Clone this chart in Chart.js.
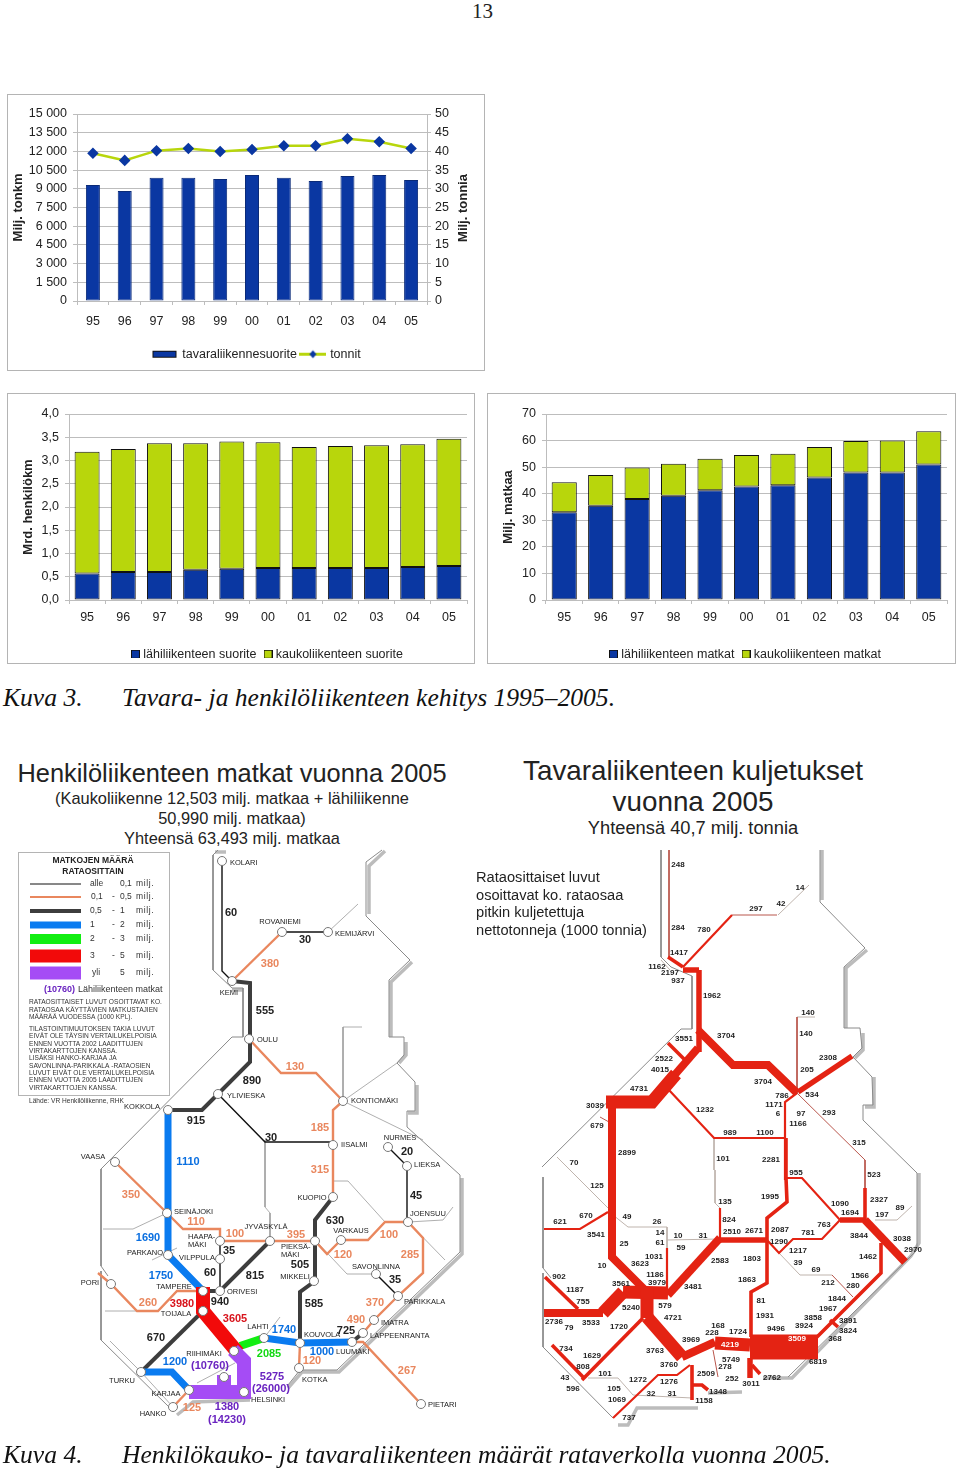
<!DOCTYPE html>
<html lang="fi">
<head>
<meta charset="UTF-8">
<title>Tavara- ja henkilöliikenteen kehitys 1995–2005</title>
<script src="https://cdn.jsdelivr.net/npm/chart.js@4/dist/chart.umd.js"></script>
<style>
  html, body { margin: 0; padding: 0; background: #fff; }
  body { position: relative; width: 960px; height: 1471px; overflow: hidden; font-family: "Liberation Sans", Arial, sans-serif; color: #222; }
  .panel { position: absolute; box-sizing: border-box; border: 1px solid #b4b4b4; }
  canvas { position: absolute; }
  .t { position: absolute; white-space: nowrap; line-height: 1; }
  .c { transform: translateX(-50%); }
  .cap { font-family: "Liberation Serif", "Times New Roman", serif; font-style: italic; font-size: 25.6px; color: #111; }
</style>
</head>
<body>
<div class="t" style="left:472px;top:1px;font-family:'Liberation Serif',serif;font-size:21px;">13</div>

<div class="panel" style="left:7px;top:94px;width:478px;height:277px;"></div>
<canvas id="freightChart" style="left:7px;top:94px;" width="478" height="277"></canvas>
<div class="panel" style="left:7px;top:393px;width:468px;height:271px;"></div>
<canvas id="pkmChart" style="left:7px;top:393px;" width="468" height="271"></canvas>
<div class="panel" style="left:487px;top:393px;width:469px;height:271px;"></div>
<canvas id="tripsChart" style="left:487px;top:393px;" width="469" height="271"></canvas>

<div class="t cap" style="left:3px;top:685px;">Kuva 3.</div>
<div class="t cap" style="left:122px;top:685px;">Tavara- ja henkilöliikenteen kehitys 1995–2005.</div>

<div class="t c" style="left:232px;top:761px;font-size:25.4px;">Henkilöliikenteen matkat vuonna 2005</div>
<div class="t c" style="left:232px;top:790px;font-size:16.4px;">(Kaukoliikenne 12,503 milj. matkaa + lähiliikenne</div>
<div class="t c" style="left:232px;top:810px;font-size:16.4px;">50,990 milj. matkaa)</div>
<div class="t c" style="left:232px;top:830px;font-size:16.4px;">Yhteensä 63,493 milj. matkaa</div>
<div class="t c" style="left:693px;top:757px;font-size:27.8px;">Tavaraliikenteen kuljetukset</div>
<div class="t c" style="left:693px;top:788px;font-size:27.8px;">vuonna 2005</div>
<div class="t c" style="left:693px;top:819px;font-size:18.3px;">Yhteensä 40,7 milj. tonnia</div>

<div class="panel" style="left:18px;top:852px;width:152px;height:244px;"></div>
<canvas id="mapChart" style="left:0;top:840px;" width="960" height="631"></canvas>

<div class="t" style="left:476px;top:869px;font-size:14.65px;line-height:17.6px;">Rataosittaiset luvut<br>osoittavat ko. rataosaa<br>pitkin kuljetettuja<br>nettotonneja (1000 tonnia)</div>

<div class="t cap" style="left:3px;top:1442px;">Kuva 4.</div>
<div class="t cap" style="left:122px;top:1442px;">Henkilökauko- ja tavaraliikenteen määrät rataverkolla vuonna 2005.</div>

<script>
// vuodet
const years = ['95','96','97','98','99','00','01','02','03','04','05'];

// kuva 3, tavaraliikenne
const tonkm = [9300,8830,9890,9890,9790,10100,9890,9620,10020,10100,9700];
const tonnit = [39.5,37.6,40.2,40.8,40,40.5,41.5,41.5,43.4,42.6,40.8];

// kuva 3, henkilöliikenne
const lahiSuorite = [0.57,0.60,0.60,0.65,0.67,0.69,0.69,0.69,0.69,0.71,0.73];
const kaukoSuorite = [2.62,2.65,2.77,2.72,2.74,2.70,2.60,2.62,2.64,2.64,2.74];
const lahiMatkat = [33,35.5,38,39.2,41.3,42.7,43.2,46.1,48,48,51];
const kaukoMatkat = [11.3,11.5,11.9,12.1,11.9,11.9,11.8,11.5,11.8,12,12.5];

// kuva 4: rataosat kartan koordinaateissa
const borderLeft = [
  [[218,850],[213,855],[213,970],[232,988],[243,988],[243,1037],[232,1037],[101,1169],[101,1266],[108,1276]],
  [[101,1271],[101,1340],[170,1408]],
  [[288,1385],[300,1370],[337,1370],[460,1252],[460,1175],[407,1127],[407,1111],[415,1111],[415,1082],[397,1063],[404,1055],[404,1037],[389,1037],[389,980],[410,960],[366,916],[366,862],[382,850]]
];
const shadowLeft = [
  [[385,851],[369,866],[369,914]],
  [[412,962],[391,982],[391,1037]],
  [[406,1042],[406,1055],[399,1063]],
  [[417,1085],[417,1113],[408,1113]],
  [[462,1178],[462,1254],[339,1372],[302,1372],[288,1388]],
  [[177,1415],[187,1407],[193,1402],[250,1400]],
  [[215,852],[226,852]],
  [[232,990],[243,990]]
];
const branchLeft = [
  [[328,932],[358,904]],
  [[362,1027],[343,1027],[343,1101],[397,1063]],
  [[343,1101],[423,1140]],
  [[265,1140],[265,1207],[270,1213],[270,1241]],
  [[333,1181],[348,1181],[385,1222]],
  [[315,1240],[347,1274],[376,1274]],
  [[408,1222],[445,1260]],
  [[408,1222],[443,1220],[453,1207]],
  [[167,1213],[133,1229],[103,1229]],
  [[152,1260],[177,1248]],
  [[105,1311],[158,1311]],
  [[264,1338],[280,1317]],
  [[197,1383],[235,1363]],
  [[110,1341],[141,1372],[173,1407]]
];
const blackLines = [
  [[222,861],[222,971],[232,981]],
  [[218,1094],[265,1142],[333,1142]],
  [[388,1147],[407,1166],[407,1222]],
  [[376,1274],[398,1296]],
  [[282,932],[328,932]],
  [[220,1241],[220,1291]]
];
const orangeLines = [
  [[232,981],[282,932]],
  [[249,1039],[281,1073],[316,1073],[343,1101]],
  [[343,1101],[333,1110],[333,1197]],
  [[115,1162],[167,1213],[183,1229],[220,1229],[220,1241]],
  [[220,1241],[315,1241],[327,1254],[341,1240],[368,1240],[385,1222],[408,1222],[423,1238],[423,1273],[398,1296],[374,1320],[363,1333]],
  [[98,1273],[111,1284],[137,1311],[158,1311],[177,1291],[203,1291]],
  [[173,1407],[189,1390]],
  [[300,1343],[299,1368]],
  [[352,1342],[363,1342],[421,1404]]
];
const darkLines = [
  [[232,981],[250,983],[250,1062],[218,1094],[202,1110],[168,1110]],
  [[333,1197],[315,1220],[315,1281],[300,1292],[300,1343]],
  [[270,1241],[220,1291],[203,1291]],
  [[203,1311],[141,1372]],
  [[363,1333],[352,1342]]
];
const blueLines = [
  [[168,1110],[168,1255],[203,1291]],
  [[141,1372],[172,1372],[189,1390]],
  [[264,1338],[300,1343],[352,1342]]
];
const greenLines = [[[240,1346],[264,1338]]];
const redLines = [[[203,1287],[203,1311],[238,1353]]];
const purpleLines = [
  [[233,1350],[244,1361],[244,1392],[189,1392]],
  [[224,1375],[224,1392]]
];
const stations = [
  [222,861],[282,932],[328,932],[232,981],[249,1039],[218,1094],[343,1101],[168,1110],[333,1145],[388,1147],
  [407,1166],[333,1197],[408,1222],[341,1240],[315,1241],[270,1241],[376,1274],[314,1281],[398,1296],[374,1320],
  [363,1333],[352,1342],[300,1343],[264,1338],[299,1368],[421,1404],[115,1162],[167,1213],[220,1241],[168,1255],
  [220,1259],[111,1284],[203,1291],[220,1291],[203,1311],[234,1351],[141,1372],[189,1390],[173,1407],[244,1392],[224,1377]
];

// kuva 4: selitteen viivat
const legendBlack = [[[30,884],[81,884]]];
const legendOrange = [[[30,897],[81,897]]];
const legendDark = [[[30,911],[81,911]]];
const legendBlue = [[[30,925],[81,925]]];
const legendGreen = [[[30,939],[81,939]]];
const legendRed = [[[30,956],[81,956]]];
const legendPurple = [[[30,973],[81,973]]];

// kuva 4: tavaraliikenteen kartta
const borderRight = [
  [[661,850],[661,957],[671,967],[692,976],[692,1029],[681,1029],[542,1167]],
  [[543,1177],[543,1268],[551,1278]],
  [[543,1273],[543,1347],[613,1418]],
  [[788,1377],[912,1255],[917,1250],[917,1173],[863,1120],[863,1105],[873,1105],[872,1077],[853,1057],[862,1048],[860,1028],[844,1028],[844,967],[865,948],[820,902],[820,850]]
];
const shadowRight = [
  [[822,850],[822,900]],
  [[867,950],[846,968],[846,1028]],
  [[863,1033],[863,1050],[855,1058]],
  [[874,1077],[874,1107],[865,1107]],
  [[919,1173],[919,1243],[911,1256],[792,1378],[763,1378]],
  [[742,1392],[708,1393]],
  [[698,1408],[637,1408],[628,1425],[618,1425]]
];
const thinGrey = [
  [[714,1138],[714,1170]],
  [[715,1170],[715,1203],[720,1208]],
  [[613,1215],[628,1227],[667,1227],[667,1248]],
  [[667,1240],[720,1239]],
  [[588,1378],[618,1378],[633,1395],[692,1398]],
  [[557,1157],[608,1208]],
  [[779,1253],[800,1275],[832,1275]],
  [[875,1220],[897,1220],[912,1206]],
  [[797,1017],[815,1017]],
  [[778,915],[809,885]],
  [[670,970],[661,960]]
];
const thinRed = [
  [[669,850],[669,957]],
  [[732,915],[777,915]],
  [[797,1017],[797,1093]],
  [[797,1093],[865,1160],[865,1188]],
  [[832,1275],[853,1297]],
  [[713,1350],[718,1377]],
  [[600,1117],[609,1122]]
];
const freightW2 = [
  [[608,1212],[580,1229],[544,1229]],
  [[683,967],[732,915]],
  [[785,1180],[785,1102],[797,1093]],
  [[668,1089],[714,1138],[785,1138]],
  [[786,1178],[802,1178],[840,1220],[862,1220]],
  [[767,1240],[779,1253],[793,1239],[822,1239],[840,1220]],
  [[613,1418],[658,1375],[677,1375],[690,1365]],
  [[667,1248],[667,1293]],
  [[720,1238],[720,1208]]
];
const freightW4 = [
  [[668,957],[683,967]],
  [[668,1043],[686,1061]],
  [[786,1138],[786,1178],[787,1202],[767,1218],[767,1283],[751,1292],[751,1337]],
  [[881,1243],[881,1273],[807,1347]],
  [[545,1277],[578,1309]],
  [[552,1345],[584,1378]],
  [[643,1318],[582,1380]],
  [[692,1365],[692,1400]],
  [[692,1385],[702,1385],[708,1390]],
  [[830,1320],[838,1327]],
  [[752,1365],[760,1374]],
  [[865,1188],[865,1220]]
];
const freightW6 = [
  [[699,970],[683,970]],
  [[699,970],[699,1052]],
  [[798,1092],[852,1056]],
  [[720,1240],[767,1240]],
  [[840,1220],[865,1220]],
  [[750,1358],[750,1378]]
];
const freightW8 = [
  [[612,1102],[612,1257],[647,1292]],
  [[720,1238],[668,1295]],
  [[698,1030],[733,1065],[768,1065],[797,1093]],
  [[698,1048],[672,1078]],
  [[865,1220],[905,1262]],
  [[603,1313],[544,1313]],
  [[682,1357],[715,1342]]
];
const freightW12 = [
  [[676,1074],[652,1102],[606,1102]],
  [[623,1292],[668,1293]],
  [[623,1292],[603,1313]],
  [[647,1317],[682,1357]],
  [[715,1343],[750,1345]],
  [[647,1288],[647,1318]]
];
const freightBlock = [[[750,1347],[818,1347]]];

// kuva 4: nimet ja luvut
const namesLeft = [
  ['KOLARI',230,863],['KEMIJÄRVI',335,934],['OULU',257,1040],['YLIVIESKA',227,1096],['KONTIOMÄKI',351,1101],
  ['IISALMI',341,1145],['LIEKSA',414,1165],['JOENSUU',410,1214],['PIEKSÄ-',281,1247],['MÄKI',281,1255],
  ['PARIKKALA',404,1302],['IMATRA',381,1323],['LAPPEENRANTA',370,1336],['LUUMÄKI',336,1352],['KOUVOLA',304,1335],
  ['KOTKA',302,1380],['PIETARI',428,1405],['SEINÄJOKI',174,1212],['HAAPA-',188,1237],['MÄKI',188,1245],
  ['ORIVESI',227,1292],['HELSINKI',251,1400]
];
const namesCenter = [
  ['ROVANIEMI',280,922],['KEMI',229,993],['KOKKOLA',142,1107],['NURMES',400,1138],['KUOPIO',312,1198],
  ['VARKAUS',351,1231],['JYVÄSKYLÄ',266,1227],['SAVONLINNA',376,1267],['MIKKELI',295,1277],['LAHTI',258,1327],
  ['VAASA',93,1157],['PARKANO',145,1253],['VILPPULA',197,1258],['PORI',90,1283],['TAMPERE',174,1287],
  ['TOIJALA',176,1314],['RIIHIMÄKI',204,1354],['TURKU',122,1381],['KARJAA',166,1394],['HANKO',153,1414]
];
const numsBlack = [
  ['60',231,913],['30',305,940],['555',265,1011],['890',252,1081],['915',196,1121],['30',271,1138],['20',407,1152],
  ['45',416,1196],['630',335,1221],['505',300,1265],['815',255,1276],['35',229,1251],['60',210,1273],['35',395,1280],
  ['585',314,1304],['940',220,1302],['670',156,1338],['725',346,1331]
];
const numsOrange = [
  ['380',270,964],['130',295,1067],['185',320,1128],['315',320,1170],['350',131,1195],['110',196,1222],['100',235,1234],
  ['395',296,1235],['100',389,1235],['120',343,1255],['285',410,1255],['260',148,1303],['370',375,1303],['490',356,1320],
  ['120',312,1361],['267',407,1371],['125',192,1408]
];
const numsBlue = [['1110',188,1162],['1690',148,1238],['1750',161,1276],['1200',175,1362],['1740',284,1330],['1000',322,1352]];
const numsGreen = [['2085',269,1354]];
const numsRed = [['3980',182,1304],['3605',235,1319]];
const numsPurple = [['(10760)',210,1366],['5275',272,1377],['(26000)',271,1389],['1380',227,1407],['(14230)',227,1420]];

const freightNums = [
  ['248',678,865],['14',800,888],['42',781,904],['297',756,909],['284',678,928],['780',704,930],['1417',679,953],
  ['1162',657,967],['2197',670,973],['937',678,981],['1962',712,996],['140',808,1013],['140',806,1034],['3551',684,1039],
  ['3704',726,1036],['2522',664,1059],['2308',828,1058],['4015',660,1070],['205',807,1070],['3704',763,1082],['4731',639,1089],
  ['786',782,1096],['534',812,1095],['1171',774,1105],['6',778,1114],['97',801,1114],['293',829,1113],['3039',595,1106],
  ['1232',705,1110],['679',597,1126],['1166',798,1124],['989',730,1133],['1100',765,1133],['315',859,1143],['2899',627,1153],
  ['101',723,1159],['2281',771,1160],['70',574,1163],['955',796,1173],['523',874,1175],['125',597,1186],['135',725,1202],
  ['824',729,1220],['49',627,1217],['26',657,1222],['670',586,1216],['621',560,1222],['3541',596,1235],['14',660,1233],
  ['10',678,1236],['31',703,1236],['2510',732,1232],['25',624,1244],['61',660,1243],['59',681,1248],['1031',654,1257],
  ['10',602,1266],['3623',640,1264],['2583',720,1261],['1186',655,1275],['902',559,1277],['3979',657,1283],['3561',621,1284],
  ['1187',575,1290],['3481',693,1287],['755',583,1302],['579',665,1306],['5240',631,1308],['4721',673,1318],['2736',554,1322],
  ['79',569,1328],['3533',591,1323],['1720',619,1327],['168',718,1326],['228',712,1333],['3969',691,1340],['734',566,1349],
  ['3763',655,1351],['1629',592,1356],['5749',731,1360],['278',725,1367],['808',583,1367],['3760',669,1365],['2509',706,1374],
  ['101',605,1374],['43',565,1378],['252',732,1379],['1272',638,1380],['1276',669,1382],['596',573,1389],['105',614,1389],
  ['1348',718,1392],['32',651,1394],['31',672,1394],['1069',617,1400],['1158',704,1401],['737',629,1418],['1995',770,1197],
  ['1090',840,1204],['2327',879,1200],['89',900,1208],['1694',850,1213],['197',882,1215],['2671',754,1231],['2087',780,1230],
  ['763',824,1225],['781',808,1233],['3844',859,1236],['3038',902,1239],['1290',779,1242],['1217',798,1251],['2970',913,1250],
  ['1803',752,1259],['39',798,1263],['1462',868,1257],['69',816,1270],['1863',747,1280],['212',828,1283],['1566',860,1276],
  ['280',853,1286],['81',761,1301],['1844',837,1299],['1931',765,1316],['1967',828,1309],['3858',813,1318],['3891',848,1321],
  ['3924',804,1326],['9496',776,1329],['3824',848,1331],['1724',738,1332],['368',835,1339],['6819',818,1362],['2762',772,1378],
  ['3011',751,1384]
];
const freightNumsWhite = [['4219',730,1345],['3509',797,1339]];

// selitteen tekstit
const legendHead = [['MATKOJEN MÄÄRÄ',93,861],['RATAOSITTAIN',93,872]];
const legendFrom = [['alle',90,884],['0,1',91,897],['0,5',90,911],['1',90,925],['2',90,939],['3',90,956],['yli',92,973]];
const legendDash = [['-',112,897],['-',112,911],['-',112,925],['-',112,939],['-',112,956]];
const legendTo = [['0,1',120,884],['0,5',120,897],['1',120,911],['2',120,925],['3',120,939],['5',120,956],['5',120,973]];
const legendUnit = [['milj.',136,884],['milj.',136,897],['milj.',136,911],['milj.',136,925],['milj.',136,939],['milj.',136,956],['milj.',136,973]];
const legendSmall = [
  ['RATAOSITTAISET LUVUT OSOITTAVAT KO.',29,1002],['RATAOSAA KÄYTTÄVIEN MATKUSTAJIEN',29,1010],['MÄÄRÄÄ VUODESSA (1000 KPL).',29,1017],
  ['TILASTOINTIMUUTOKSEN TAKIA LUVUT',29,1029],['EIVÄT OLE TÄYSIN VERTAILUKELPOISIA',29,1036],['ENNEN VUOTTA 2002 LAADITTUJEN',29,1044],
  ['VIRTAKARTTOJEN KANSSA.',29,1051],['LISÄKSI HANKO-KARJAA JA',29,1058],['SAVONLINNA-PARIKKALA -RATAOSIEN',29,1066],
  ['LUVUT EIVÄT OLE VERTAILUKELPOISIA',29,1073],['ENNEN VUOTTA 2005 LAADITTUJEN',29,1080],['VIRTAKARTTOJEN KANSSA.',29,1088],
  ['Lähde: VR Henkilöliikenne, RHK',29,1101]
];
const legendLahi = [['Lähiliikenteen matkat',78,990]];
const legendLahiNum = [['(10760)',44,990]];

const NAVY = '#0a37a2', LIME = '#b8d60c', GRID = '#bdbdbd', TXT = '#222';

// selitteen sijainti annetaan kaavion omissa asetuksissa
const legendPlace = {
  id: 'legendPlace',
  beforeLayout(chart) {
    const lg = chart.legend;
    if (!lg || lg._placed) return;
    const fit = lg.fit;
    lg.fit = function () { fit.call(this); this.height = 0; };
    lg._placed = true;
  },
  afterLayout(chart, args, opts) {
    const lg = chart.legend;
    lg.left = opts.x; lg.right = opts.x + 420; lg.top = opts.y; lg.bottom = opts.y + 20;
  }
};

// oikean akselin otsikko luetaan alhaalta ylös
const rightTitle = {
  id: 'rightTitle',
  afterDraw(chart, args, opts) {
    const g = chart.ctx;
    g.save();
    g.translate(opts.x, opts.y);
    g.rotate(-Math.PI / 2);
    g.font = 'bold 13px "Liberation Sans", Arial, sans-serif';
    g.fillStyle = TXT; g.textAlign = 'center'; g.textBaseline = 'middle';
    g.fillText(opts.text, 0, 0);
    g.restore();
  }
};

function swatch(kind, fill) {
  const c = document.createElement('canvas');
  if (kind === 'box') {
    c.width = 9; c.height = 9;
    const h = c.getContext('2d');
    h.fillStyle = fill; h.fillRect(0, 0, 9, 9);
    h.strokeStyle = '#111'; h.strokeRect(0.5, 0.5, 8, 8);
    return c;
  }
  c.width = 27; c.height = 11;
  const k = c.getContext('2d');
  if (kind === 'bar') {
    k.fillStyle = NAVY; k.fillRect(1, 2, 24, 7);
    k.strokeStyle = '#111'; k.strokeRect(1.5, 2.5, 23, 6);
  } else {
    k.fillStyle = LIME; k.fillRect(0, 4, 27, 3);
    k.fillStyle = NAVY; k.beginPath();
    k.moveTo(13.5, 1.5); k.lineTo(17, 5.5); k.lineTo(13.5, 9.5); k.lineTo(10, 5.5); k.fill();
  }
  return c;
}

function legendItem(text, img, fill) {
  return { text: text, pointStyle: img, fontColor: TXT, lineWidth: 0, strokeStyle: 'transparent', fillStyle: fill };
}

function scaleX(height, pad) {
  return {
    stacked: true,
    offset: true,
    afterFit: s => { s.height = height; },
    grid: { drawOnChartArea: false, color: GRID, tickLength: 4, offset: true },
    border: { color: GRID },
    ticks: { color: TXT, font: { size: 12.5 }, padding: pad, maxRotation: 0, autoSkip: false }
  };
}

function scaleY(width, max, step, title, titlePad, fmt) {
  return {
    stacked: true,
    min: 0, max: max,
    afterFit: s => { s.width = width; },
    grid: { color: GRID, lineWidth: 1, tickLength: 4 },
    border: { color: GRID },
    ticks: { stepSize: step, color: TXT, font: { size: 12.5 }, padding: 6, callback: fmt },
    title: { display: true, text: title, color: TXT, font: { size: 13, weight: 'bold' }, padding: { top: titlePad, bottom: 0 } }
  };
}

const thousands = v => String(v).replace(/\B(?=(\d{3})+$)/g, ' ');

new Chart(document.getElementById('freightChart'), {
  data: {
    labels: years,
    datasets: [
      { type: 'line', label: 'tonnit', data: tonnit, yAxisID: 'yR', order: 1, borderColor: LIME, borderWidth: 2.5, tension: 0,
        pointStyle: 'rectRot', pointRadius: 4, pointBackgroundColor: NAVY, pointBorderColor: NAVY },
      { type: 'bar', label: 'tavaraliikennesuorite', data: tonkm, yAxisID: 'y', order: 2, backgroundColor: NAVY, borderColor: '#0a2a78',
        borderWidth: 1, borderSkipped: false, barPercentage: 0.44, categoryPercentage: 1 }
    ]
  },
  options: {
    responsive: false, animation: false,
    layout: { autoPadding: false, padding: { top: 20, left: 0, right: 0, bottom: 0 } },
    scales: {
      x: scaleX(70, 9),
      y: scaleY(70, 15000, 1500, 'Milj. tonkm', 4, thousands),
      yR: { position: 'right', min: 0, max: 50, afterFit: s => { s.width = 58; },
        grid: { drawOnChartArea: false, color: GRID, tickLength: 4 }, border: { color: GRID },
        ticks: { stepSize: 5, color: TXT, font: { size: 12.5 }, padding: 4 } }
    },
    plugins: {
      rightTitle: { text: 'Milj. tonnia', x: 456, y: 114 },
      legendPlace: { x: 142, y: 249 },
      legend: {
        position: 'bottom', align: 'start',
        labels: {
          color: TXT, font: { size: 12.5 }, padding: 5, usePointStyle: true, pointStyleWidth: 22, boxHeight: 11,
          generateLabels: () => [
            legendItem('tavaraliikennesuorite', swatch('bar'), NAVY),
            legendItem('tonnit', swatch('line'), LIME)
          ]
        }
      }
    }
  },
  plugins: [legendPlace, rightTitle]
});

function stackChart(id, lowLabel, low, highLabel, high, yCfg, legendX) {
  new Chart(document.getElementById(id), {
    type: 'bar',
    data: {
      labels: years,
      datasets: [
        { label: lowLabel, data: low, backgroundColor: NAVY, borderColor: '#111', borderWidth: 1, borderSkipped: false, barPercentage: 0.69, categoryPercentage: 1 },
        { label: highLabel, data: high, backgroundColor: LIME, borderColor: '#111', borderWidth: 1, borderSkipped: false, barPercentage: 0.69, categoryPercentage: 1 }
      ]
    },
    options: {
      responsive: false, animation: false,
      layout: { autoPadding: false, padding: { top: 21, left: 0, right: yCfg.right, bottom: 0 } },
      scales: { x: scaleX(64, 6), y: scaleY(yCfg.width, yCfg.max, yCfg.step, yCfg.title, 14, yCfg.fmt) },
      plugins: {
        legendPlace: { x: legendX, y: 245 },
        legend: {
          position: 'bottom', align: 'start',
          labels: {
            color: TXT, font: { size: 12.5 }, padding: 10, usePointStyle: true, pointStyleWidth: 3, boxHeight: 9,
            generateLabels: () => [legendItem(lowLabel, swatch('box', NAVY), NAVY), legendItem(highLabel, swatch('box', LIME), LIME)]
          }
        }
      }
    },
    plugins: [legendPlace]
  });
}

stackChart('pkmChart', 'lähiliikenteen suorite', lahiSuorite, 'kaukoliikenteen suorite', kaukoSuorite,
  { width: 62, right: 8, max: 4, step: 0.5, title: 'Mrd. henkilökm', fmt: v => v.toFixed(1).replace('.', ',') }, 117);
stackChart('tripsChart', 'lähiliikenteen matkat', lahiMatkat, 'kaukoliikenteen matkat', kaukoMatkat,
  { width: 59, right: 9, max: 70, step: 10, title: 'Milj. matkaa', fmt: v => v }, 115);

// kartan tekstit piirretään akseleiden kautta
const mapText = {
  id: 'mapText',
  afterDatasetsDraw(chart, args, opts) {
    const g = chart.ctx, sx = chart.scales.x, sy = chart.scales.y;
    g.save();
    g.textBaseline = 'middle';
    opts.groups.forEach(gr => {
      g.font = gr.font; g.fillStyle = gr.color; g.textAlign = gr.align;
      g.letterSpacing = gr.spacing || '0px';
      gr.items.forEach(it => g.fillText(it[0], sx.getPixelForValue(it[1]), sy.getPixelForValue(it[2])));
    });
    g.restore();
  }
};

const mapDatasets = [];
function addLines(list, color, width) {
  list.forEach(line => mapDatasets.push({
    data: line.map(p => ({ x: p[0], y: p[1] })),
    showLine: true, tension: 0, borderColor: color, borderWidth: width, pointRadius: 0,
    borderCapStyle: 'butt', borderJoinStyle: 'miter', clip: false
  }));
}

const ORANGE = '#e9875e', DARK = '#3d3d3d', BLUE = '#0a7bf0', GREEN = '#12ee12', RED = '#f20a0a', PURPLE = '#a54cf5', FR = '#e42313';

addLines(shadowLeft, '#bcbcbc', 3.5);
addLines(shadowRight, '#bcbcbc', 3.5);
addLines(borderLeft, '#8a8a8a', 1);
addLines(borderRight, '#8a8a8a', 1);
addLines(branchLeft, '#9a9a9a', 0.8);
addLines(blackLines, '#111', 1.4);
addLines(orangeLines, ORANGE, 2.4);
addLines(darkLines, DARK, 4);
addLines(blueLines, BLUE, 7);
addLines(greenLines, GREEN, 8);
addLines(redLines, RED, 14);
addLines(purpleLines, PURPLE, 14);
addLines(legendBlack, '#111', 1);
addLines(legendOrange, ORANGE, 2);
addLines(legendDark, DARK, 4);
addLines(legendBlue, BLUE, 7);
addLines(legendGreen, GREEN, 10);
addLines(legendRed, RED, 13);
addLines(legendPurple, PURPLE, 13);
addLines(thinGrey, '#bfb4ad', 1);
addLines(thinRed, '#b9564c', 1);
addLines(freightW2, FR, 2.2);
addLines(freightW4, FR, 3.6);
addLines(freightW6, FR, 5.5);
addLines(freightW8, FR, 8);
addLines(freightW12, FR, 13);
addLines(freightBlock, FR, 25);
mapDatasets.push({
  data: stations.map(p => ({ x: p[0], y: p[1] })),
  showLine: false, pointRadius: 4.5, pointBackgroundColor: '#fff', pointBorderColor: '#777', pointBorderWidth: 1, clip: false
});
mapDatasets.reverse();

const SANS = '"Liberation Sans", Arial, sans-serif';
new Chart(document.getElementById('mapChart'), {
  type: 'scatter',
  data: { datasets: mapDatasets },
  options: {
    responsive: false, animation: false,
    layout: { autoPadding: false, padding: 0 },
    scales: {
      x: { type: 'linear', display: false, min: 0, max: 960 },
      y: { type: 'linear', display: false, reverse: true, min: 840, max: 1471 }
    },
    plugins: {
      legend: { display: false },
      tooltip: { enabled: false },
      mapText: {
        groups: [
          { items: namesLeft, font: '7.5px ' + SANS, color: '#222', align: 'left' },
          { items: namesCenter, font: '7.5px ' + SANS, color: '#222', align: 'center' },
          { items: numsBlack, font: 'bold 11px ' + SANS, color: '#222', align: 'center' },
          { items: numsOrange, font: 'bold 11px ' + SANS, color: ORANGE, align: 'center' },
          { items: numsBlue, font: 'bold 11px ' + SANS, color: '#0a6fe0', align: 'center' },
          { items: numsGreen, font: 'bold 11px ' + SANS, color: '#12d812', align: 'center' },
          { items: numsRed, font: 'bold 11px ' + SANS, color: '#d8141c', align: 'center' },
          { items: numsPurple, font: 'bold 11px ' + SANS, color: '#6a24c0', align: 'center' },
          { items: freightNums, font: 'bold 8px ' + SANS, color: '#222', align: 'center' },
          { items: freightNumsWhite, font: 'bold 8px ' + SANS, color: '#fff', align: 'center' },
          { items: legendHead, font: 'bold 8.5px ' + SANS, color: '#222', align: 'center' },
          { items: legendFrom, font: '8.5px ' + SANS, color: '#333', align: 'left' },
          { items: legendDash, font: '8.5px ' + SANS, color: '#333', align: 'left' },
          { items: legendTo, font: '8.5px ' + SANS, color: '#333', align: 'left' },
          { items: legendUnit, font: '8.5px ' + SANS, color: '#333', align: 'left', spacing: '0.6px' },
          { items: legendSmall, font: '6.6px ' + SANS, color: '#333', align: 'left' },
          { items: legendLahi, font: '9px ' + SANS, color: '#333', align: 'left' },
          { items: legendLahiNum, font: 'bold 9px ' + SANS, color: '#6a24c0', align: 'left' }
        ]
      }
    }
  },
  plugins: [mapText]
});
</script>
</body>
</html>
